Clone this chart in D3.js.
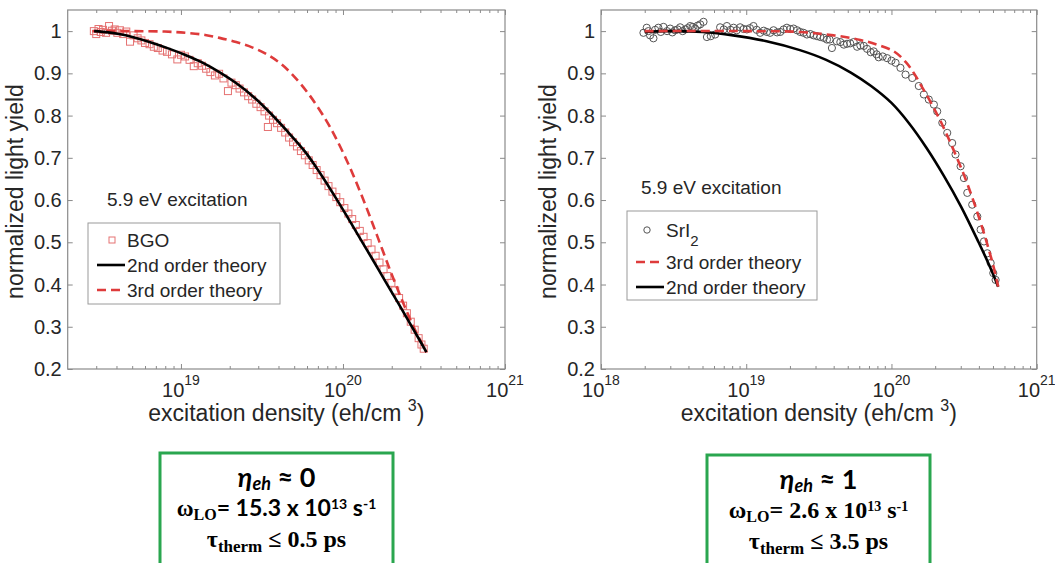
<!DOCTYPE html>
<html>
<head>
<meta charset="utf-8">
<script src="https://cdn.jsdelivr.net/npm/d3@7"></script>
<style>
body { margin: 0; background: #fff; }
svg { font-family: "Liberation Sans", Arial, sans-serif; }
</style>
</head>
<body>
<svg id="chart" width="1055" height="563"></svg>
<script>
// ---- data ----
// BGO (left panel) : excitation density (eh/cm3) and normalized light yield
const bgoX = [2.90e18, 3.00e18, 3.10e18, 3.20e18, 3.30e18, 3.45e18, 3.60e18, 3.75e18, 3.90e18, 4.05e18,
  4.20e18, 4.40e18, 4.60e18, 4.85e18, 5.10e18, 5.40e18, 5.70e18, 6.00e18, 6.40e18, 6.80e18,
  7.20e18, 7.70e18, 8.20e18, 8.80e18, 9.50e18, 1.00e19, 1.06e19, 1.13e19, 1.20e19, 1.27e19,
  1.35e19, 1.43e19, 1.52e19, 1.62e19, 1.72e19, 1.83e19, 1.95e19, 2.05e19, 2.18e19, 2.30e19,
  2.45e19, 2.60e19, 2.75e19, 2.92e19, 3.10e19, 3.28e19, 3.44e19, 3.50e19, 3.70e19, 3.92e19,
  4.15e19, 4.40e19, 4.65e19, 4.92e19, 5.20e19, 5.50e19, 5.82e19, 6.15e19, 6.50e19, 6.88e19,
  7.27e19, 7.70e19, 8.14e19, 8.61e19, 9.10e19, 9.62e19, 1.02e20, 1.08e20, 1.14e20, 1.20e20,
  1.27e20, 1.34e20, 1.42e20, 1.50e20, 1.59e20, 1.68e20, 1.78e20, 1.88e20, 1.99e20, 2.10e20,
  2.22e20, 2.35e20, 2.48e20, 2.62e20, 2.77e20, 2.93e20, 3.05e20, 3.15e20];
const bgoY = [1.000, 0.993, 1.005, 0.998, 1.003, 0.996, 1.012, 1.001, 1.004, 0.996,
  1.002, 0.993, 0.999, 0.975, 0.990, 0.983, 0.978, 0.972, 0.969, 0.963,
  0.960, 0.954, 0.951, 0.945, 0.933, 0.944, 0.940, 0.932, 0.917, 0.924,
  0.918, 0.911, 0.903, 0.895, 0.899, 0.888, 0.858, 0.878, 0.872, 0.864,
  0.855, 0.846, 0.838, 0.828, 0.820, 0.810, 0.773, 0.800, 0.790, 0.782,
  0.771, 0.760, 0.748, 0.737, 0.727, 0.716, 0.706, 0.694, 0.683, 0.671,
  0.659, 0.646, 0.633, 0.620, 0.607, 0.595, 0.581, 0.568, 0.555, 0.541,
  0.527, 0.513, 0.498, 0.483, 0.468, 0.452, 0.436, 0.420, 0.404, 0.386,
  0.368, 0.350, 0.332, 0.312, 0.293, 0.273, 0.258, 0.248];

const bgo2ndX = [2.91e18, 3.55e18, 4.15e18, 5.01e18, 6.68e18, 8.51e18, 1.074e19, 1.349e19, 1.726e19, 2.188e19,
  2.773e19, 3.436e19, 4.457e19, 5.848e19, 7.244e19, 8.872e19, 1.072e20, 1.285e20, 1.514e20, 1.811e20,
  2.138e20, 2.512e20, 2.884e20, 3.273e20];
const bgo2ndY = [1.000, 0.997, 0.993, 0.986, 0.972, 0.958, 0.943, 0.926, 0.903, 0.877,
  0.846, 0.812, 0.766, 0.714, 0.663, 0.610, 0.558, 0.507, 0.461, 0.410,
  0.363, 0.317, 0.277, 0.240];

const bgo3rdX = [2.84e18, 5.01e18, 7.94e18, 1.07e19, 1.41e19, 1.73e19, 2.19e19, 2.77e19, 3.39e19, 4.06e19,
  4.79e19, 6.17e19, 7.89e19, 9.12e19, 1.069e20, 1.202e20, 1.355e20, 1.514e20, 1.679e20, 1.862e20,
  2.080e20, 2.344e20, 2.630e20, 2.951e20, 3.273e20];
const bgo3rdY = [1.000, 1.000, 0.999, 0.996, 0.991, 0.984, 0.974, 0.961, 0.945, 0.925,
  0.900, 0.850, 0.788, 0.744, 0.689, 0.644, 0.595, 0.547, 0.501, 0.455,
  0.407, 0.358, 0.313, 0.273, 0.240];

// SrI2 (right panel)
const sriX = [1.96e18, 2.065e18, 2.12e18, 2.178e18, 2.296e18, 2.36e18, 2.483e18, 2.58e18, 2.692e18, 2.85e18,
  2.992e18, 3.10e18, 3.236e18, 3.37e18, 3.508e18, 3.65e18, 3.802e18, 3.95e18, 4.111e18, 4.28e18,
  4.446e18, 4.63e18, 4.82e18, 5.08e18, 5.36e18, 5.70e18, 6.11e18, 6.61e18, 7.00e18, 7.36e18,
  7.80e18, 8.18e18, 8.60e18, 9.08e18, 9.60e18, 1.01e19, 1.06e19, 1.122e19, 1.18e19, 1.247e19,
  1.32e19, 1.387e19, 1.46e19, 1.542e19, 1.63e19, 1.714e19, 1.81e19, 1.905e19, 2.01e19, 2.118e19,
  2.24e19, 2.355e19, 2.48e19, 2.618e19, 2.76e19, 2.911e19, 3.07e19, 3.236e19, 3.42e19, 3.597e19,
  3.75e19, 3.89e19, 4.20e19, 4.446e19, 4.70e19, 4.943e19, 5.20e19, 5.495e19, 5.80e19, 6.109e19,
  6.45e19, 6.792e19, 7.20e19, 7.551e19, 7.90e19, 8.166e19, 8.70e19, 9.333e19, 1.00e20, 1.067e20,
  1.153e20, 1.250e20, 1.390e20, 1.542e20, 1.671e20, 1.807e20, 1.959e20, 2.065e20, 2.239e20, 2.421e20,
  2.618e20, 2.761e20, 2.992e20, 3.155e20, 3.327e20, 3.597e20, 3.899e20, 4.111e20, 4.335e20, 4.571e20,
  4.819e20, 5.023e20, 5.212e20];
const sriY = [0.996, 1.008, 1.000, 0.990, 0.983, 1.003, 1.008, 0.998, 1.010, 1.000,
  1.006, 0.997, 1.002, 1.004, 1.009, 1.000, 1.004, 1.007, 1.012, 1.010,
  1.006, 1.013, 1.016, 1.022, 0.986, 0.988, 0.992, 1.009, 1.004, 1.012,
  1.003, 1.008, 1.002, 1.009, 1.005, 1.004, 1.007, 1.012, 1.003, 0.996,
  1.001, 0.998, 0.996, 1.002, 0.997, 0.998, 1.004, 1.008, 1.005, 1.006,
  1.002, 0.998, 0.996, 0.992, 0.993, 0.990, 0.988, 0.986, 0.984, 0.980,
  0.980, 0.960, 0.976, 0.974, 0.968, 0.970, 0.971, 0.974, 0.963, 0.966,
  0.965, 0.958, 0.950, 0.952, 0.945, 0.938, 0.940, 0.936, 0.930, 0.925,
  0.913, 0.897, 0.889, 0.870, 0.850, 0.838, 0.826, 0.810, 0.783, 0.759,
  0.735, 0.708, 0.680, 0.652, 0.617, 0.589, 0.561, 0.530, 0.502, 0.474,
  0.451, 0.427, 0.411];

const sri3rdX = [2.00e18, 1.00e19, 2.34e19, 4.00e19, 6.11e19, 7.94e19, 1.04e20, 1.26e20, 1.43e20, 1.62e20,
  1.86e20, 2.14e20, 2.42e20, 2.75e20, 3.16e20, 3.55e20, 3.90e20, 4.27e20, 4.57e20, 5.01e20, 5.43e20];
const sri3rdY = [1.000, 1.000, 0.998, 0.990, 0.979, 0.968, 0.952, 0.926, 0.900, 0.868,
  0.832, 0.792, 0.753, 0.709, 0.659, 0.612, 0.571, 0.529, 0.495, 0.446, 0.395];

const sri2ndX = [2.00e18, 2.82e18, 5.01e18, 8.13e18, 1.38e19, 2.34e19, 3.55e19, 5.25e19, 7.24e19, 1.00e20,
  1.32e20, 1.74e20, 2.29e20, 3.02e20, 3.98e20, 4.68e20, 5.43e20];
const sri2ndY = [0.998, 1.000, 0.998, 0.990, 0.976, 0.955, 0.932, 0.902, 0.870, 0.830,
  0.782, 0.724, 0.658, 0.584, 0.500, 0.448, 0.395];

const yTicks = [0.2, 0.3, 0.4, 0.5, 0.6, 0.7, 0.8, 0.9, 1];
const leftXTicks = [1e19, 1e20, 1e21];
const rightXTicks = [1e18, 1e19, 1e20, 1e21];

const axisColor = "#8a8a8a";
const textColor = "#262626";
const redLine = "#de3b3b";
const redMarker = "#e57272";

const svg = d3.select("#chart");
svg.append("rect").attr("width", 1055).attr("height", 563).attr("fill", "#fff");

function zip(xs, ys) { return xs.map((v, i) => ({ x: v, y: ys[i] })); }

function drawPanel(p) {
  const x = d3.scaleLog().domain(p.xDomain).range([p.left, p.right]);
  const y = d3.scaleLinear().domain([0.2, 1.05]).range([p.bottom, p.top]);
  const g = svg.append("g");

  const minor = x.ticks().filter(v => !p.xTicks.includes(v) && v > p.xDomain[0] && v < p.xDomain[1]);

  // ticks on all four sides, pointing inward
  const axes = [
    [d3.axisBottom(x).tickValues(p.xTicks).tickSizeInner(-5), p.bottom],
    [d3.axisTop(x).tickValues(p.xTicks).tickSizeInner(-5), p.top],
    [d3.axisBottom(x).tickValues(minor).tickSizeInner(-3), p.bottom],
    [d3.axisTop(x).tickValues(minor).tickSizeInner(-3), p.top]
  ];
  axes.forEach(([ax, ty]) => {
    const a = g.append("g").attr("transform", `translate(0,${ty})`)
      .call(ax.tickSizeOuter(0).tickFormat(""));
    a.select(".domain").remove();
    a.selectAll("line").attr("stroke", axisColor);
  });
  [[d3.axisLeft(y), p.left], [d3.axisRight(y), p.right]].forEach(([ax, tx]) => {
    const a = g.append("g").attr("transform", `translate(${tx},0)`)
      .call(ax.tickValues(yTicks).tickSizeInner(-5).tickSizeOuter(0).tickFormat(""));
    a.select(".domain").remove();
    a.selectAll("line").attr("stroke", axisColor);
  });

  g.append("rect")
    .attr("x", p.left).attr("y", p.top)
    .attr("width", p.right - p.left).attr("height", p.bottom - p.top)
    .attr("fill", "none").attr("stroke", axisColor).attr("stroke-width", 1.2);

  // y tick labels
  g.selectAll(".ylab").data(yTicks).enter().append("text")
    .attr("x", p.left - 6).attr("y", d => y(d)).attr("dy", "0.35em")
    .attr("text-anchor", "end").attr("font-size", 20).attr("fill", textColor)
    .text(d => d === 1 ? "1" : d3.format(".1f")(d));

  // x tick labels 10^n
  const xl = g.selectAll(".xlab").data(p.xTicks).enter().append("text")
    .attr("x", d => x(d)).attr("y", p.bottom + 28)
    .attr("text-anchor", "middle").attr("font-size", 20).attr("fill", textColor);
  xl.append("tspan").text("10");
  xl.append("tspan").attr("dy", -12).attr("font-size", 14).text(d => Math.round(Math.log10(d)));

  // axis titles
  const cx = (p.left + p.right) / 2;
  const xt = g.append("text").attr("x", cx).attr("y", p.bottom + 52)
    .attr("text-anchor", "middle").attr("font-size", 23).attr("fill", textColor);
  xt.append("tspan").text("excitation density (eh/cm ");
  xt.append("tspan").attr("dy", -10).attr("font-size", 16).text("3");
  xt.append("tspan").attr("dy", 10).text(")");

  g.append("text")
    .attr("transform", `translate(${p.left - 45},${(p.top + p.bottom) / 2 + 2}) rotate(-90)`)
    .attr("text-anchor", "middle").attr("font-size", 23).attr("fill", textColor)
    .text("normalized light yield");

  g.append("text").attr("x", p.noteX).attr("y", p.noteY)
    .attr("font-size", 19).attr("fill", textColor).text("5.9 eV excitation");

  const line = d3.line().x(d => x(d.x)).y(d => y(d.y)).curve(d3.curveCatmullRom.alpha(0.5));
  const plot = g.append("g");

  // markers first, then curves on top
  if (p.marker === "square") {
    plot.selectAll("rect.pt").data(p.points).enter().append("rect")
      .attr("x", d => x(d.x) - 3.5).attr("y", d => y(d.y) - 3.5)
      .attr("width", 7).attr("height", 7)
      .attr("fill", "none").attr("stroke", redMarker).attr("stroke-width", 1);
  } else {
    plot.selectAll("circle.pt").data(p.points).enter().append("circle")
      .attr("cx", d => x(d.x)).attr("cy", d => y(d.y)).attr("r", 3.6)
      .attr("fill", "none").attr("stroke", "#555").attr("stroke-width", 1);
  }
  p.curves.forEach(c => {
    plot.append("path").datum(c.data)
      .attr("d", line).attr("fill", "none")
      .attr("stroke", c.color).attr("stroke-width", 2.6)
      .attr("stroke-dasharray", c.dash || null);
  });

  // legend
  const L = p.legend;
  g.append("rect").attr("x", L.x).attr("y", L.y).attr("width", L.w).attr("height", L.h)
    .attr("fill", "#fff").attr("stroke", "#9a9a9a").attr("stroke-width", 1);
  L.items.forEach((it, i) => {
    const yy = L.rows[i];
    if (it.type === "square") {
      g.append("rect").attr("x", L.x + 21).attr("y", yy - 3).attr("width", 6).attr("height", 6)
        .attr("fill", "none").attr("stroke", redMarker);
    } else if (it.type === "circle") {
      g.append("circle").attr("cx", L.x + 20).attr("cy", yy).attr("r", 3.2)
        .attr("fill", "none").attr("stroke", "#555");
    } else {
      g.append("line").attr("x1", L.x + 9).attr("x2", L.x + 37).attr("y1", yy).attr("y2", yy)
        .attr("stroke", it.color).attr("stroke-width", 2.6)
        .attr("stroke-dasharray", it.dash || null);
    }
    const t = g.append("text").attr("x", L.x + 39).attr("y", yy + 7)
      .attr("font-size", 19).attr("fill", textColor);
    t.append("tspan").text(it.label);
    if (it.sub) t.append("tspan").attr("dy", 9).attr("font-size", 15).text(it.sub);
  });
}

drawPanel({
  left: 67.7, right: 505, top: 10, bottom: 369,
  xDomain: [2e18, 1e21], xTicks: leftXTicks,
  noteX: 107, noteY: 206,
  marker: "square", points: zip(bgoX, bgoY),
  curves: [
    { data: zip(bgo3rdX, bgo3rdY), color: redLine, dash: "9,5" },
    { data: zip(bgo2ndX, bgo2ndY), color: "#000" }
  ],
  legend: {
    x: 88, y: 223, w: 192, h: 81, rows: [240, 265, 290],
    items: [
      { type: "square", label: "BGO" },
      { type: "line", label: "2nd order theory", color: "#000" },
      { type: "line", label: "3rd order theory", color: redLine, dash: "9,5" }
    ]
  }
});

drawPanel({
  left: 601, right: 1036.7, top: 10, bottom: 369,
  xDomain: [1e18, 1e21], xTicks: rightXTicks,
  noteX: 641, noteY: 194,
  marker: "circle", points: zip(sriX, sriY),
  curves: [
    { data: zip(sri2ndX, sri2ndY), color: "#000" },
    { data: zip(sri3rdX, sri3rdY), color: redLine, dash: "9,5" }
  ],
  legend: {
    x: 627, y: 211, w: 190, h: 89, rows: [230, 262, 287],
    items: [
      { type: "circle", label: "SrI", sub: "2" },
      { type: "line", label: "3rd order theory", color: redLine, dash: "9,5" },
      { type: "line", label: "2nd order theory", color: "#000" }
    ]
  }
});

// ---- parameter boxes below the panels ----
const boxes = [
  { x: 160, w: 233, top: 453, eta: "0", omega: "15.3 x 10", omegaSans: true, omegaSize: 23, tau: "0.5 ps" },
  { x: 707, w: 223, top: 455, eta: "1", omega: "2.6 x 10", omegaSans: false, omegaSize: 24, tau: "3.5 ps" }
];
const sans = "Lato, 'Open Sans', 'Noto Sans', sans-serif";
const serif = "'Liberation Serif', 'Times New Roman', serif";

boxes.forEach(b => {
  const g = svg.append("g");
  g.append("rect").attr("x", b.x).attr("y", b.top).attr("width", b.w).attr("height", 130)
    .attr("fill", "#fff").attr("stroke", "#2aa64f").attr("stroke-width", 3);
  const cx = b.x + b.w / 2;

  const t1 = g.append("text").attr("x", cx).attr("y", b.top + 34)
    .attr("text-anchor", "middle").attr("font-family", sans).attr("font-weight", "bold")
    .attr("font-size", 27).attr("fill", "#000");
  t1.append("tspan").attr("font-style", "italic").text("η");
  t1.append("tspan").attr("font-style", "italic").attr("font-size", 18).attr("dy", 3).text("eh");
  t1.append("tspan").attr("dy", -3).text(" ≈ " + b.eta);

  const f = b.omegaSans ? sans : serif;
  const t2 = g.append("text").attr("x", cx).attr("y", b.top + 63)
    .attr("text-anchor", "middle").attr("font-family", serif).attr("font-weight", "bold")
    .attr("font-size", b.omegaSize).attr("fill", "#000");
  t2.append("tspan").text("ω");
  t2.append("tspan").attr("font-size", 16).attr("dy", 4).text("LO");
  t2.append("tspan").attr("dy", -4).attr("font-family", f).text("= " + b.omega);
  t2.append("tspan").attr("font-family", f).attr("font-size", 14).attr("dy", -7).text("13");
  t2.append("tspan").attr("font-family", f).attr("dy", 7).text(" s");
  t2.append("tspan").attr("font-family", f).attr("font-size", 14).attr("dy", -7).text("-1");

  const t3 = g.append("text").attr("x", cx).attr("y", b.top + 94)
    .attr("text-anchor", "middle").attr("font-family", serif).attr("font-weight", "bold")
    .attr("font-size", 24).attr("fill", "#000");
  t3.append("tspan").text("τ");
  t3.append("tspan").attr("font-size", 17).attr("dy", 5).text("therm");
  t3.append("tspan").attr("dy", -5).text(" ≤ " + b.tau);
});
</script>
</body>
</html>
